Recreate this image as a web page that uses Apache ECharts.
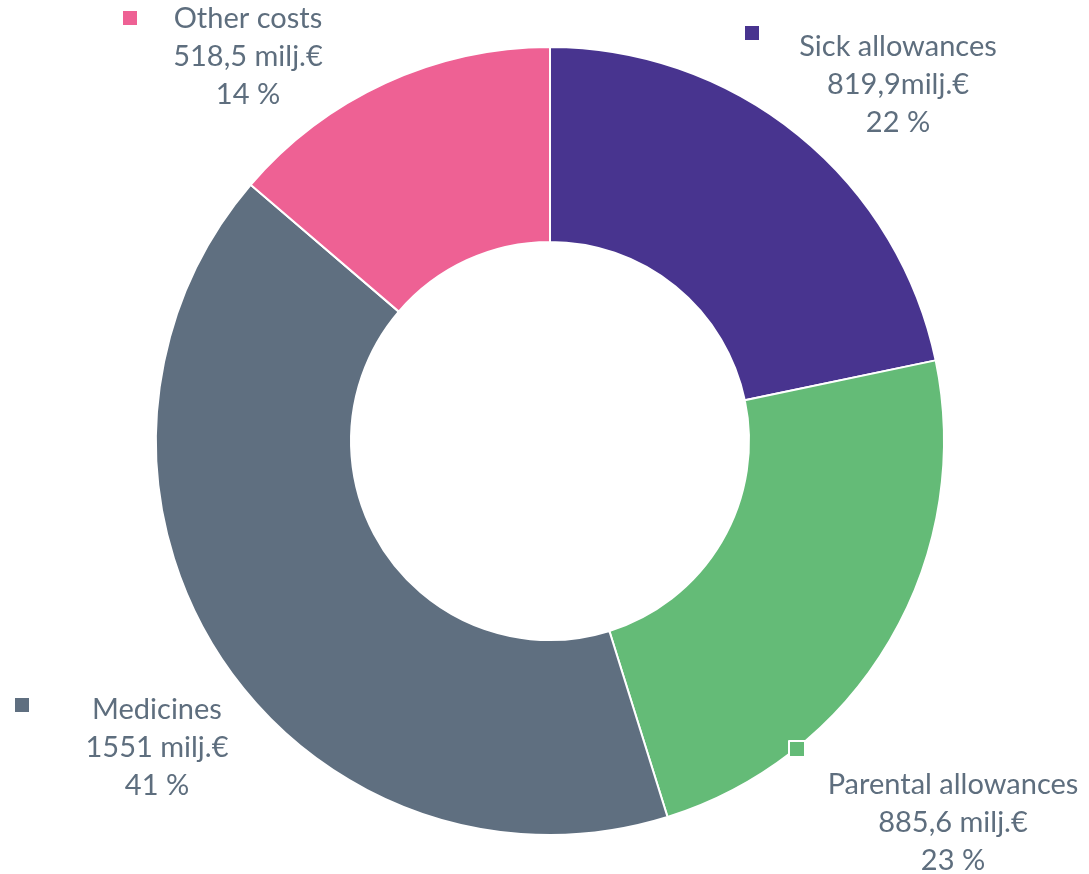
<!DOCTYPE html>
<html>
<head>
<meta charset="utf-8">
<script src="https://cdn.jsdelivr.net/npm/echarts@6/dist/echarts.min.js"></script>
<style>html,body{margin:0;padding:0;background:#fff}#c{width:1089px;height:874px}</style>
</head>
<body>
<div id="c"></div>
<script>
const categories = ['Sick allowances', 'Parental allowances', 'Medicines', 'Other costs'];
const values = [819.9, 885.6, 1551, 518.5];
const unitSeparators = ['', ' ', ' ', ' '];
const unit = 'milj.€';
const colors = ['#48348F', '#64BB77', '#5F6F80', '#EE6194'];

const labelPos = [[898, 28], [953, 766], [157, 691], [248, 0]];
const legendPos = [[745, 26], [788, 740], [15, 698], [123, 11]];

const chart = echarts.init(document.getElementById('c'));
const fontFamily = 'Lato';
const textColor = '#5E6E7E';

const legends = categories.map((name, i) => ({
  data: [name],
  left: legendPos[i][0],
  top: legendPos[i][1],
  icon: 'rect',
  itemWidth: i === 1 ? 16 : 14,
  itemHeight: i === 1 ? 16 : 14,
  padding: 0,
  itemGap: 0,
  selectedMode: false,
  itemStyle: i === 1 ? { borderColor: '#fff', borderWidth: 2 } : { borderWidth: 0 },
  formatter: () => '',
  textStyle: { fontSize: 1 }
}));

chart.setOption({
  animation: false,
  color: colors,
  legend: legends,
  series: [{
    type: 'pie',
    center: [550, 441],
    radius: [199, 394],
    startAngle: 90,
    clockwise: true,
    itemStyle: { borderColor: '#fff', borderWidth: 2 },
    label: {
      show: true,
      position: 'outside',
      color: textColor,
      fontFamily: fontFamily,
      fontSize: 29,
      lineHeight: 38,
      align: 'center',
      overflow: 'none',
      width: 400,
      formatter: p => p.name + '\n' + String(p.value).replace('.', ',') + unitSeparators[p.dataIndex] + unit + '\n' + Math.round(p.percent) + ' %'
    },
    labelLine: { show: false },
    labelLayout: p => ({
      x: labelPos[p.dataIndex][0],
      y: labelPos[p.dataIndex][1],
      align: 'center',
      verticalAlign: 'top'
    }),
    emphasis: { disabled: true },
    data: categories.map((n, i) => ({ name: n, value: values[i] }))
  }]
});
</script>
</body>
</html>
